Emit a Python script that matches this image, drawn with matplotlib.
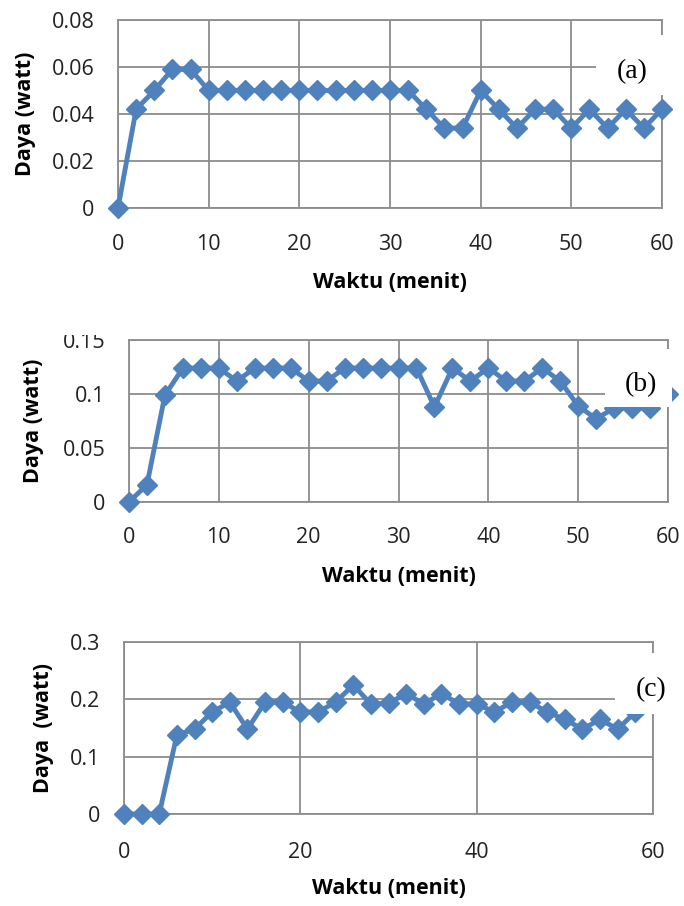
import matplotlib.pyplot as plt
from matplotlib.patches import Rectangle

plt.rcParams['font.family'] = ['Open Sans', 'DejaVu Sans']

# waktu (menit)
waktu = list(range(0, 61, 2))

# daya (watt) tiap panel
daya_a = [0, 0.042, 0.05, 0.059, 0.059, 0.05, 0.05, 0.05, 0.05, 0.05, 0.05,
          0.05, 0.05, 0.05, 0.05, 0.05, 0.05, 0.042, 0.034, 0.034, 0.05,
          0.042, 0.034, 0.042, 0.042, 0.034, 0.042, 0.034, 0.042, 0.034, 0.042]
daya_b = [0, 0.016, 0.099, 0.124, 0.124, 0.124, 0.112, 0.124, 0.124, 0.124, 0.112,
          0.112, 0.124, 0.124, 0.124, 0.124, 0.124, 0.088, 0.124, 0.112, 0.124,
          0.112, 0.112, 0.124, 0.112, 0.089, 0.077, 0.087, 0.087, 0.087, 0.1]
daya_c = [0, 0, 0, 0.138, 0.148, 0.178, 0.195, 0.148, 0.195, 0.195, 0.178,
          0.178, 0.195, 0.225, 0.192, 0.193, 0.21, 0.192, 0.21, 0.192, 0.192,
          0.178, 0.195, 0.195, 0.178, 0.165, 0.148, 0.165, 0.148, 0.178, 0.2]

label_panel = ['(a)', '(b)', '(c)']
yticks = [[0, 0.02, 0.04, 0.06, 0.08], [0, 0.05, 0.1, 0.15], [0, 0.1, 0.2, 0.3]]
yticklabels = [['0', '0.02', '0.04', '0.06', '0.08'], ['0', '0.05', '0.1', '0.15'], ['0', '0.1', '0.2', '0.3']]
xticks = [list(range(0, 61, 10)), list(range(0, 61, 10)), list(range(0, 61, 20))]
ylabels = ['Daya (watt)', 'Daya (watt)', 'Daya  (watt)']

W, H = 684, 906
biru = '#4f81bd'
abu = '#8c8c8c'

fig = plt.figure(figsize=(W / 100, H / 100), dpi=100)

# posisi (pixel): kiri, atas, kanan, bawah
kotak = [(118, 20, 662, 208), (129, 340, 668, 502), (124, 642, 653, 814)]
ylabel_x = [25, 34, 43]
xtick_pad = [19, 18, 20]
xlabel_y = [282, 577, 888]
# kotak putih label (a)/(b)/(c) dan posisi teks
kotak_label = [(596, 35, 668, 95), (605, 349, 672, 407), (615, 653, 688, 714)]
teks_label = [(632, 72), (641, 385), (651, 690)]

data = [daya_a, daya_b, daya_c]

for i in range(3):
    l, t, r, b = kotak[i]
    ax = fig.add_axes([l / W, (H - b) / H, (r - l) / W, (b - t) / H])
    ax.plot(waktu, data[i], color=biru, lw=3.5, marker='D', ms=10.5,
            clip_on=False, zorder=3)
    ax.set_xlim(0, 60)
    ax.set_ylim(yticks[i][0], yticks[i][-1])
    ax.set_xticks(xticks[i])
    ax.set_yticks(yticks[i])
    ax.set_yticklabels(yticklabels[i])
    ax.grid(True, color=abu, lw=1.3)
    for s in ax.spines.values():
        s.set_color(abu)
        s.set_linewidth(1.3)
    ax.tick_params(axis='both', length=0, labelsize=15.5, colors='#222222')
    ax.tick_params(axis='y', pad=17)
    ax.tick_params(axis='x', pad=xtick_pad[i])
    ax.set_ylabel(ylabels[i], fontsize=15.5, fontweight='bold', va='center')
    ax.yaxis.set_label_coords((ylabel_x[i] - l) / (r - l), 0.5)
    ax.set_xlabel('Waktu (menit)', fontsize=15.5, fontweight='bold', va='center')
    ax.xaxis.set_label_coords(0.5, -(xlabel_y[i] - b) / (b - t))

    bl, bt, br, bb = kotak_label[i]
    fig.add_artist(Rectangle((bl / W, (H - bb) / H), (br - bl) / W, (bb - bt) / H,
                             transform=fig.transFigure, facecolor='white',
                             edgecolor='none', zorder=10))
    tx, ty = teks_label[i]
    fig.text(tx / W, (H - ty) / H, label_panel[i], fontsize=20,
             family='Liberation Serif', ha='center', va='center', zorder=11)

# bagian atas label 0.15 terpotong seperti pada gambar asli
fig.add_artist(Rectangle((0, (H - 335) / H), 120 / W, 30 / H,
                         transform=fig.transFigure, facecolor='white',
                         edgecolor='none', zorder=10))

plt.savefig('out.png', dpi=100)
